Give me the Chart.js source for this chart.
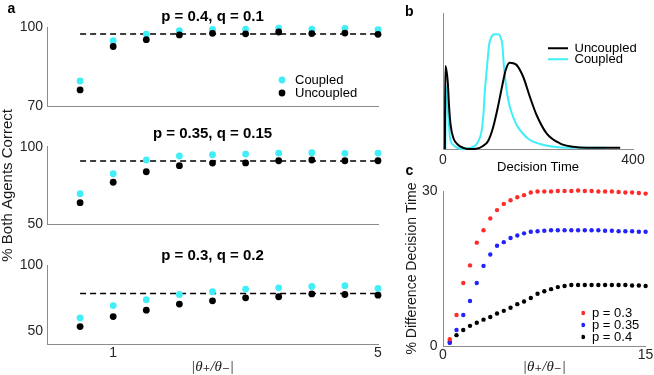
<!DOCTYPE html>
<html><head><meta charset="utf-8">
<script src="https://cdn.jsdelivr.net/npm/chart.js@4.4.1/dist/chart.umd.min.js"></script>
<style>
html,body{margin:0;padding:0;background:#fff;}
#wrap{position:relative;width:654px;height:375px;overflow:hidden;font-family:'Liberation Sans',Arial,sans-serif;}
canvas{position:absolute;left:0;top:0;}
.lbl{position:absolute;font-weight:bold;font-size:14px;line-height:14px;color:#000;}
</style></head><body>
<div id="wrap">
<canvas id="a1" width="654" height="375"></canvas>
<canvas id="a2" width="654" height="375"></canvas>
<canvas id="a3" width="654" height="375"></canvas>
<canvas id="b" width="654" height="375"></canvas>
<canvas id="c" width="654" height="375"></canvas>
<div class="lbl" style="left:7.5px;top:1px">a</div>
<div class="lbl" style="left:405px;top:4px">b</div>
<div class="lbl" style="left:405.5px;top:163px">c</div>
</div>
<script>
// ---------- data ----------
// panel a: |theta+/theta-| ratios
const thetaRatio = [0.5, 1, 1.5, 2, 2.5, 3, 3.5, 4, 4.5, 5];
const xTicksA = [1, 5];
const titleA1 = 'p = 0.4, q = 0.1';
const coupledA1 = [79.5, 94.8, 97.3, 98.6, 99.1, 99.2, 99.6, 99.2, 99.5, 99.0];
const uncoupledA1 = [76.1, 92.6, 95.2, 97.0, 97.6, 97.4, 98.1, 97.5, 97.7, 97.2];
const refA1 = 97.3;
const yTicksA1 = [70, 100];
const titleA2 = 'p = 0.35, q = 0.15';
const coupledA2 = [69.6, 82.5, 91.4, 94.0, 94.8, 95.2, 95.9, 96.1, 95.7, 95.9];
const uncoupledA2 = [63.8, 77.0, 83.8, 87.7, 89.4, 89.5, 90.9, 91.4, 90.9, 90.9];
const refA2 = 90.7;
const yTicksA2 = [50, 100];
const titleA3 = 'p = 0.3, q = 0.2';
const coupledA3 = [59.8, 69.2, 73.6, 77.6, 79.7, 81.7, 82.7, 83.7, 84.3, 82.2];
const uncoupledA3 = [53.2, 60.8, 65.7, 70.3, 72.8, 75.1, 75.9, 78.0, 77.6, 77.1];
const refA3 = 78.4;
const yTicksA3 = [50, 100];
const yTitleA = '% Both Agents Correct';
const xTitleRatio = '|\u03B8\u208A/\u03B8\u208B|';

// panel b: decision time distributions (arbitrary density units)
const uncoupledT = [4, 5, 10, 13, 16, 22, 32, 42, 55, 70, 85, 95, 105, 115, 125, 132, 140, 148, 155, 169, 183, 197, 218, 246, 274, 302, 345, 373];
const uncoupledH = [0, 83, 67, 41, 24, 10.7, 4, 1.3, 0, 0.3, 3.3, 8, 20.7, 40.7, 64, 79, 86.3, 85.7, 84, 72, 52, 34, 15.7, 5.7, 2.3, 1.3, 1.3, 1.3];
const coupledT = [5, 6, 11, 15, 22, 32, 43, 53, 64, 74, 81, 85, 88, 93, 97, 102, 109, 116, 121, 125, 128, 132, 137, 144, 155, 169, 183, 204, 232, 267, 300, 341];
const coupledH = [0, 63, 34, 10.7, 4, 0.7, 0, 0.7, 2.3, 7.3, 17.3, 34, 57, 84, 104, 112, 114.7, 114.7, 112, 104, 84, 66, 50, 37, 24, 15, 9, 5, 2.3, 1.3, 1.3, 1.3];
const xTicksB = [0, 400];
const xTitleB = 'Decision Time';

// panel c: % difference in decision time
const ratioC = [0.5, 1, 1.5, 2, 2.5, 3, 3.5, 4, 4.5, 5, 5.5, 6, 6.5, 7, 7.5, 8, 8.5, 9, 9.5, 10, 10.5, 11, 11.5, 12, 12.5, 13, 13.5, 14, 14.5, 15];
const diffP030 = [1.3, 6.0, 12.2, 15.6, 20.0, 22.4, 24.7, 26.3, 27.5, 28.2, 28.8, 29.2, 29.7, 29.9, 29.9, 29.9, 30.0, 30.0, 30.0, 30.1, 30.0, 30.0, 29.9, 29.9, 29.9, 29.8, 29.7, 29.7, 29.6, 29.5];
const diffP035 = [0.6, 3.1, 6.0, 8.7, 12.2, 15.5, 17.7, 19.4, 20.1, 20.9, 21.4, 21.8, 22.1, 22.2, 22.3, 22.4, 22.4, 22.4, 22.4, 22.4, 22.4, 22.4, 22.4, 22.3, 22.3, 22.2, 22.2, 22.2, 22.1, 22.1];
const diffP040 = [0.8, 2.1, 3.1, 3.9, 4.5, 5.1, 5.6, 6.3, 6.8, 7.4, 8.1, 8.6, 9.3, 10.1, 10.6, 11.0, 11.4, 11.6, 11.8, 11.8, 11.8, 11.8, 11.8, 11.8, 11.8, 11.8, 11.8, 11.7, 11.7, 11.6];
const xTicksC = [0, 15];
const yTicksC = [0, 30];
const yTitleC = '% Difference Decision Time';

// ---------- styling ----------
const CYAN = '#40eef8';
const RED = '#ff2a2a';
const BLUE = '#2222ff';
const AXIS = '#8c8c8c';
const SANS = "'Liberation Sans', Arial, Helvetica, sans-serif";
const SERIF = "'Liberation Serif', 'DejaVu Serif', 'Times New Roman', serif";
Chart.defaults.font.family = SANS;
Chart.defaults.font.size = 14;
Chart.defaults.color = '#262626';

function setTicks(vals) { return scale => { scale.ticks = vals.map(v => ({ value: v })); }; }
function pts(xs, ys) { return xs.map((x, i) => ({ x: x, y: ys[i] })); }
function legendAt(x, y) {
  return { id: 'legendAt', beforeDraw(chart) {
    const L = chart.legend; if (!L) return;
    const pad = L.options.labels.padding || 0;
    L.left = x - pad; L.top = y - pad; L.width = 200; L.height = 200;
    L.right = L.left + 200; L.bottom = L.top + 200;
  } };
}
function axisBase(extra) {
  return Object.assign({ grid: { display: false, drawTicks: false, tickLength: 0 }, border: { display: true, color: AXIS, width: 1 } }, extra);
}
const base = { responsive: false, animation: false, devicePixelRatio: 1, events: [] };

function makeA(id, o) {
  const datasets = [
    { label: 'Coupled', data: pts(thetaRatio, o.coupled), pointRadius: 3.4, pointBackgroundColor: CYAN, backgroundColor: CYAN, borderColor: CYAN, pointBorderWidth: 0, order: 1, clip: false },
    { label: 'Uncoupled', data: pts(thetaRatio, o.uncoupled), pointRadius: 3.4, pointBackgroundColor: '#000', backgroundColor: '#000', borderColor: '#000', pointBorderWidth: 0, order: 0, clip: false },
    { label: 'ref', data: [{ x: thetaRatio[0], y: o.ref }, { x: thetaRatio[thetaRatio.length - 1], y: o.ref }], showLine: true, borderColor: '#000', borderWidth: 1.5, borderDash: [6, 4], pointRadius: 0, order: 2, clip: false }
  ];
  const legend = o.legend ? {
    display: true, position: 'chartArea', align: 'start',
    labels: { usePointStyle: true, pointStyle: 'circle', boxWidth: 14, boxHeight: 4.8, padding: 0, color: '#000', font: { size: 13 },
      filter: it => it.datasetIndex < 2, sort: (a, b) => a.datasetIndex - b.datasetIndex }
  } : { display: false };
  return new Chart(document.getElementById(id), {
    type: 'scatter',
    data: { datasets },
    options: Object.assign({}, base, {
      layout: { padding: { left: 0, top: o.top - 18 - o.gap, right: 654 - 378, bottom: 375 - o.bottom - o.xh } },
      plugins: {
        title: { display: true, text: o.title, fullSize: false, color: '#000', font: { size: 15, weight: 'bold' }, padding: { top: 0, bottom: o.gap } },
        legend: legend,
        tooltip: { enabled: false }
      },
      scales: {
        x: axisBase({ type: 'linear', min: 0, max: 5,
          ticks: { display: o.xLabels, padding: 1 },
          afterBuildTicks: setTicks(xTicksA),
          afterFit: s => { s.height = o.xh; },
          title: o.xLabels ? { display: true, text: xTitleRatio, color: '#1a1a1a', font: { family: SERIF, style: 'italic', size: 15, lineHeight: 1 }, padding: { top: 0, bottom: 0 } } : { display: false } }),
        y: axisBase({ type: 'linear', min: o.ymin, max: 100,
          ticks: { padding: 4 },
          afterBuildTicks: setTicks(o.yTicks),
          afterFit: s => { s.width = 47; },
          title: o.yTitle ? { display: true, text: o.yTitle, color: '#1a1a1a', font: { size: 15, lineHeight: 1 }, padding: { top: 0.5, bottom: 0 } } : { display: false } })
      }
    }),
    plugins: o.legend ? [legendAt(275.5, 73.5)] : []
  });
}

makeA('a1', { title: titleA1, coupled: coupledA1, uncoupled: uncoupledA1, ref: refA1, yTicks: yTicksA1, ymin: 70, top: 27, bottom: 106, gap: 1.3, xh: 0, xLabels: false, legend: true });
makeA('a2', { title: titleA2, coupled: coupledA2, uncoupled: uncoupledA2, ref: refA2, yTicks: yTicksA2, ymin: 50, top: 146.7, bottom: 224, gap: 3.4, xh: 0, xLabels: false, yTitle: yTitleA });
makeA('a3', { title: titleA3, coupled: coupledA3, uncoupled: uncoupledA3, ref: refA3, yTicks: yTicksA3, ymin: 40, top: 265, bottom: 344, gap: 0.3, xh: 31, xLabels: true });

// panel b
new Chart(document.getElementById('b'), {
  type: 'line',
  data: { datasets: [
    { label: 'Uncoupled', data: pts(uncoupledT, uncoupledH), borderColor: '#000', borderWidth: 2, pointRadius: 0, pointBorderColor: '#000', pointBackgroundColor: '#000', pointBorderWidth: 2, cubicInterpolationMode: 'monotone', fill: false, clip: false },
    { label: 'Coupled', data: pts(coupledT, coupledH), borderColor: CYAN, borderWidth: 2, pointRadius: 0, pointBorderColor: CYAN, pointBackgroundColor: CYAN, pointBorderWidth: 2, cubicInterpolationMode: 'monotone', fill: false, clip: false }
  ] },
  options: Object.assign({}, base, {
    layout: { padding: { left: 443, right: 21, top: 13, bottom: 200 } },
    plugins: {
      title: { display: false },
      legend: { display: true, position: 'chartArea', align: 'start',
        labels: { usePointStyle: true, pointStyle: 'line', pointStyleWidth: 22, padding: -2, color: '#000', font: { size: 13 } } },
      tooltip: { enabled: false }
    },
    scales: {
      x: axisBase({ type: 'linear', min: 0, max: 400, ticks: { padding: 3 },
        afterBuildTicks: setTicks(xTicksB), afterFit: s => { s.height = 26; },
        title: { display: true, text: xTitleB, color: '#000', font: { size: 13, lineHeight: 1 }, padding: { top: 0, bottom: 1.5 } } }),
      y: axisBase({ type: 'linear', min: 0, max: 136, ticks: { display: false }, afterFit: s => { s.width = 0; } })
    }
  }),
  plugins: [legendAt(546, 41.8)]
});

// panel c
new Chart(document.getElementById('c'), {
  type: 'scatter',
  data: { datasets: [
    { label: 'p = 0.3', data: pts(ratioC, diffP030), pointRadius: 2.2, pointBackgroundColor: RED, backgroundColor: RED, borderColor: RED, pointBorderWidth: 0, clip: false },
    { label: 'p = 0.35', data: pts(ratioC, diffP035), pointRadius: 2.2, pointBackgroundColor: BLUE, backgroundColor: BLUE, borderColor: BLUE, pointBorderWidth: 0, clip: false },
    { label: 'p = 0.4', data: pts(ratioC, diffP040), pointRadius: 2.2, pointBackgroundColor: '#000', backgroundColor: '#000', borderColor: '#000', pointBorderWidth: 0, clip: false }
  ] },
  options: Object.assign({}, base, {
    layout: { padding: { left: 405, right: 7, top: 191, bottom: 0 } },
    plugins: {
      title: { display: false },
      legend: { display: true, position: 'chartArea', align: 'start',
        labels: { usePointStyle: true, pointStyle: 'circle', boxWidth: 5, boxHeight: 3.1, padding: -1, color: '#000', font: { size: 13 } } },
      tooltip: { enabled: false }
    },
    scales: {
      x: axisBase({ type: 'linear', min: 0, max: 15, ticks: { padding: 0.6 },
        afterBuildTicks: setTicks(xTicksC), afterFit: s => { s.height = 29; },
        title: { display: true, text: xTitleRatio, color: '#1a1a1a', font: { family: SERIF, style: 'italic', size: 15, lineHeight: 1 }, padding: { top: 0, bottom: 0.5 } } }),
      y: axisBase({ type: 'linear', min: 0, max: 30, ticks: { padding: 5.5 },
        afterBuildTicks: setTicks(yTicksC), afterFit: s => { s.width = 38; },
        title: { display: true, text: yTitleC, color: '#1a1a1a', font: { size: 14, lineHeight: 1 }, padding: { top: 0, bottom: 0 } } })
    }
  }),
  plugins: [legendAt(580.5, 306.5)]
});
</script>
</body></html>
